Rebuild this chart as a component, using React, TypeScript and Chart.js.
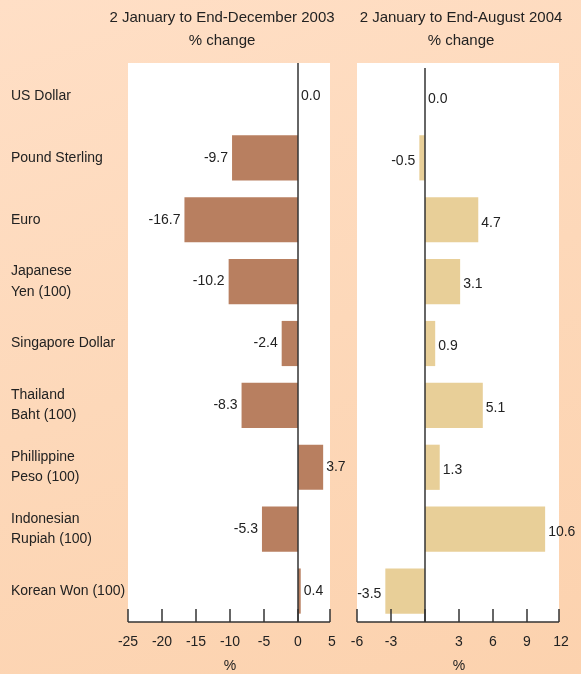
import React, { useEffect, useRef } from 'react';
import { Chart, registerables } from 'chart.js';

Chart.register(...registerables);

const categories: (string | string[])[] = [
  'US Dollar',
  'Pound Sterling',
  'Euro',
  ['Japanese', 'Yen (100)'],
  'Singapore Dollar',
  ['Thailand', 'Baht (100)'],
  ['Phillippine', 'Peso (100)'],
  ['Indonesian', 'Rupiah (100)'],
  'Korean Won (100)',
];

const change2003 = [0.0, -9.7, -16.7, -10.2, -2.4, -8.3, 3.7, -5.3, 0.4];
const change2004 = [0.0, -0.5, 4.7, 3.1, 0.9, 5.1, 1.3, 10.6, -3.5];

const ticks2003 = [-25, -20, -15, -10, -5, 0, 5];
const ticks2004 = [-6, -3, 0, 3, 6, 9, 12];

const title2003 = ['2 January to End-December 2003', '% change'];
const title2004 = ['2 January to End-August 2004', '% change'];

const W = 581;
const H = 674;
const FONT = "'Liberation Sans', Arial, Helvetica, sans-serif";
const TEXT = '#222222';

const panelPlugin = {
  id: 'panel',
  beforeDraw(chart: any, _args: any, opts: any) {
    const { ctx, chartArea: a } = chart;
    ctx.save();
    ctx.fillStyle = '#ffffff';
    ctx.fillRect(a.left, a.top - opts.topExtra, a.right - opts.rightInset - a.left, a.bottom - a.top + opts.topExtra);
    ctx.restore();
  },
  afterDatasetsDraw(chart: any, _args: any, opts: any) {
    const { ctx, chartArea: a } = chart;
    const x = chart.scales.x;
    ctx.save();
    ctx.strokeStyle = '#333333';
    ctx.lineWidth = 1.5;
    // zero line
    const z = x.getPixelForValue(0);
    ctx.beginPath();
    ctx.moveTo(z, a.top - opts.zeroTopExtra);
    ctx.lineTo(z, a.bottom);
    ctx.stroke();
    // axis line
    ctx.beginPath();
    ctx.moveTo(a.left, a.bottom);
    ctx.lineTo(a.right - opts.rightInset, a.bottom);
    ctx.stroke();
    // tick marks (inward)
    x.ticks.forEach((t: any) => {
      let px = x.getPixelForValue(t.value);
      px = Math.min(px, a.right - opts.rightInset);
      ctx.beginPath();
      ctx.moveTo(px, a.bottom);
      ctx.lineTo(px, a.bottom - 13);
      ctx.stroke();
    });
    // data labels
    ctx.fillStyle = TEXT;
    ctx.font = `14px ${FONT}`;
    ctx.textBaseline = 'middle';
    const meta = chart.getDatasetMeta(0);
    const data = chart.data.datasets[0].data as number[];
    meta.data.forEach((el: any, i: number) => {
      const v = data[i];
      const txt = v.toFixed(1);
      const y = el.y + opts.labelDy;
      if (v < 0) {
        ctx.textAlign = 'right';
        ctx.fillText(txt, el.x - 4, y);
      } else {
        ctx.textAlign = 'left';
        ctx.fillText(txt, el.x + 3, y);
      }
    });
    // titles
    ctx.font = `15px ${FONT}`;
    ctx.textAlign = 'center';
    const cx = (a.left + a.right) / 2 + opts.titleShift;
    (opts.title as string[]).forEach((line, i) => {
      ctx.fillText(line, cx, 18 + i * 23);
    });
    ctx.restore();
  },
};

function makeConfig(
  values: number[],
  ticks: number[],
  color: string,
  showCats: boolean,
  padding: { left: number; right: number },
  panelOpts: any
): any {
  return {
    type: 'bar',
    data: {
      labels: categories,
      datasets: [
        {
          data: values,
          backgroundColor: color,
          borderWidth: 0,
          barPercentage: 0.73,
          categoryPercentage: 1,
        },
      ],
    },
    plugins: [panelPlugin],
    options: {
      indexAxis: 'y',
      animation: false,
      responsive: false,
      devicePixelRatio: 1,
      layout: { padding: { left: padding.left, right: padding.right, top: 65, bottom: 0 } },
      plugins: {
        legend: { display: false },
        tooltip: { enabled: false },
        title: { display: false },
        panel: panelOpts,
      },
      scales: {
        x: {
          type: 'linear',
          min: ticks[0],
          max: ticks[ticks.length - 1],
          afterBuildTicks: (scale: any) => {
            scale.ticks = ticks.map((v) => ({ value: v }));
          },
          afterFit: (scale: any) => {
            scale.height = 52;
          },
          grid: { display: false, drawTicks: false },
          border: { display: false },
          ticks: {
            color: TEXT,
            font: { size: 14, family: FONT },
            padding: 12,
            maxRotation: 0,
            autoSkip: false,
            callback: (v: any) => (showCats || v !== 0 ? String(v) : ''),
          },
          title: {
            display: true,
            text: '%',
            color: TEXT,
            font: { size: 14, family: FONT },
            padding: { top: 0, bottom: -1 },
          },
        },
        y: {
          type: 'category',
          display: showCats,
          afterFit: (scale: any) => {
            scale.width = showCats ? 117 : 0;
          },
          grid: { display: false, drawTicks: false },
          border: { display: false },
          ticks: {
            color: TEXT,
            font: { size: 14, family: FONT, lineHeight: 1.45 },
            crossAlign: 'far',
            padding: 0,
            autoSkip: false,
          },
        },
      },
    },
  };
}

export default function App() {
  const leftRef = useRef<HTMLCanvasElement>(null);
  const rightRef = useRef<HTMLCanvasElement>(null);

  useEffect(() => {
    Chart.defaults.font.family = FONT;
    Chart.defaults.color = TEXT;
    const left = new Chart(
      leftRef.current as HTMLCanvasElement,
      makeConfig(change2003, ticks2003, '#B87F60', true, { left: 11, right: W - 332 }, {
        topExtra: 2,
        rightInset: 2,
        zeroTopExtra: 2,
        labelDy: 0,
        titleShift: -8,
        title: title2003,
      })
    );
    const right = new Chart(
      rightRef.current as HTMLCanvasElement,
      makeConfig(change2004, ticks2004, '#E8CF98', false, { left: 357, right: W - 561 }, {
        topExtra: 2,
        rightInset: 2,
        zeroTopExtra: -3,
        labelDy: 3,
        titleShift: 2,
        title: title2004,
      })
    );
    return () => {
      left.destroy();
      right.destroy();
    };
  }, []);

  return (
    <div
      style={{
        position: 'fixed',
        left: 0,
        top: 0,
        width: W,
        height: H,
        overflow: 'hidden',
        background: 'linear-gradient(160deg, #FFDFC6 0%, #FDD8B9 50%, #FCD2AE 100%)',
      }}
    >
      <canvas ref={leftRef} width={W} height={H} style={{ position: 'absolute', left: 0, top: 0 }} />
      <canvas ref={rightRef} width={W} height={H} style={{ position: 'absolute', left: 0, top: 0 }} />
    </div>
  );
}
